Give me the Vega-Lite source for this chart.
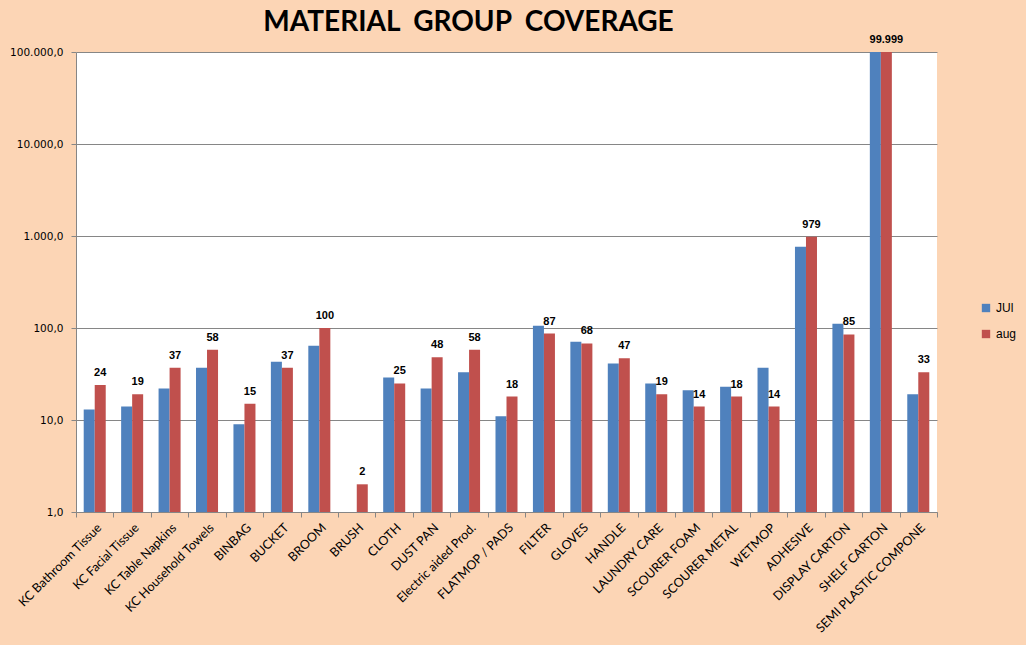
{
  "$schema": "https://vega.github.io/schema/vega-lite/v6.json",
  "width": 861,
  "height": 460,
  "autosize": "none",
  "padding": {"left": 76, "top": 52, "right": 89, "bottom": 133},
  "background": "#FCD5B5",
  "title": {
    "text": "MATERIAL\u00a0 GROUP\u00a0 COVERAGE",
    "font": "Lato",
    "fontSize": 28,
    "fontWeight": "bold",
    "color": "#000000",
    "anchor": "middle",
    "dx": -38,
    "offset": -3
  },
  "config": {
    "locale": {
      "number": {"decimal": ",", "thousands": ".", "grouping": [3], "currency": ["", ""]}
    },
    "view": {"fill": "#FFFFFF", "stroke": null},
    "axis": {"labelFont": "Liberation Sans", "labelColor": "#000000", "domainColor": "#868686", "tickColor": "#868686", "gridColor": "#868686"}
  },
  "data": {
    "values": [
      {"cat": "KC Bathroom Tissue", "series": "JUl", "value": 13},
      {"cat": "KC Bathroom Tissue", "series": "aug", "value": 24},
      {"cat": "KC Facial Tissue", "series": "JUl", "value": 14},
      {"cat": "KC Facial Tissue", "series": "aug", "value": 19},
      {"cat": "KC Table Napkins", "series": "JUl", "value": 22},
      {"cat": "KC Table Napkins", "series": "aug", "value": 37},
      {"cat": "KC Household Towels", "series": "JUl", "value": 37},
      {"cat": "KC Household Towels", "series": "aug", "value": 58},
      {"cat": "BINBAG", "series": "JUl", "value": 9},
      {"cat": "BINBAG", "series": "aug", "value": 15},
      {"cat": "BUCKET", "series": "JUl", "value": 43},
      {"cat": "BUCKET", "series": "aug", "value": 37},
      {"cat": "BROOM", "series": "JUl", "value": 64},
      {"cat": "BROOM", "series": "aug", "value": 100},
      {"cat": "BRUSH", "series": "aug", "value": 2},
      {"cat": "CLOTH", "series": "JUl", "value": 29},
      {"cat": "CLOTH", "series": "aug", "value": 25},
      {"cat": "DUST PAN", "series": "JUl", "value": 22},
      {"cat": "DUST PAN", "series": "aug", "value": 48},
      {"cat": "Electric aided Prod.", "series": "JUl", "value": 33},
      {"cat": "Electric aided Prod.", "series": "aug", "value": 58},
      {"cat": "FLATMOP / PADS", "series": "JUl", "value": 11},
      {"cat": "FLATMOP / PADS", "series": "aug", "value": 18},
      {"cat": "FILTER", "series": "JUl", "value": 106},
      {"cat": "FILTER", "series": "aug", "value": 87},
      {"cat": "GLOVES", "series": "JUl", "value": 71},
      {"cat": "GLOVES", "series": "aug", "value": 68},
      {"cat": "HANDLE", "series": "JUl", "value": 41},
      {"cat": "HANDLE", "series": "aug", "value": 47},
      {"cat": "LAUNDRY CARE", "series": "JUl", "value": 25},
      {"cat": "LAUNDRY CARE", "series": "aug", "value": 19},
      {"cat": "SCOURER FOAM", "series": "JUl", "value": 21},
      {"cat": "SCOURER FOAM", "series": "aug", "value": 14},
      {"cat": "SCOURER METAL", "series": "JUl", "value": 23},
      {"cat": "SCOURER METAL", "series": "aug", "value": 18},
      {"cat": "WETMOP", "series": "JUl", "value": 37},
      {"cat": "WETMOP", "series": "aug", "value": 14},
      {"cat": "ADHESIVE", "series": "JUl", "value": 765},
      {"cat": "ADHESIVE", "series": "aug", "value": 979},
      {"cat": "DISPLAY CARTON", "series": "JUl", "value": 111},
      {"cat": "DISPLAY CARTON", "series": "aug", "value": 85},
      {"cat": "SHELF CARTON", "series": "JUl", "value": 99999},
      {"cat": "SHELF CARTON", "series": "aug", "value": 99999},
      {"cat": "SEMI PLASTIC COMPONE", "series": "JUl", "value": 19},
      {"cat": "SEMI PLASTIC COMPONE", "series": "aug", "value": 33}
    ]
  },
  "encoding": {
    "x": {
      "field": "cat",
      "type": "nominal",
      "sort": null,
      "scale": {"paddingInner": 0, "paddingOuter": 0},
      "axis": {
        "title": null,
        "labelAngle": -45,
        "labelFont": "Lato",
        "labelFontSize": 12.5,
        "tickBand": "extent",
        "tickSize": 5,
        "labelPadding": 4
      }
    },
    "xOffset": {
      "field": "series",
      "type": "nominal",
      "scale": {"domain": ["JUl", "aug"], "paddingOuter": 0.7, "paddingInner": 0}
    },
    "y": {
      "field": "value",
      "type": "quantitative",
      "scale": {"type": "log", "domain": [1, 100000], "nice": false},
      "axis": {
        "title": null,
        "values": [1, 10, 100, 1000, 10000, 100000],
        "format": ",.1f",
        "labelFont": "DejaVu Sans",
        "labelFontSize": 10.5,
        "labelPadding": 8,
        "tickSize": 5,
        "gridColor": "#868686"
      }
    }
  },
  "layer": [
    {
      "mark": {"type": "bar"},
      "encoding": {
        "y2": {"datum": 1},
        "color": {
          "field": "series",
          "type": "nominal",
          "scale": {"domain": ["JUl", "aug"], "range": ["#4F81BD", "#C0504D"]},
          "legend": {
            "title": null,
            "orient": "none",
            "legendX": 904,
            "legendY": 250,
            "symbolType": "square",
            "symbolSize": 70,
            "symbolStrokeWidth": 0,
            "rowPadding": 14,
            "labelFont": "Liberation Sans",
            "labelFontSize": 12,
            "labelColor": "#000000"
          }
        }
      }
    },
    {
      "transform": [{"filter": "datum.series === 'aug'"}],
      "mark": {"type": "text", "dy": -12, "fontWeight": "bold", "font": "Liberation Sans", "fontSize": 11, "color": "#000000"},
      "encoding": {
        "text": {"field": "value", "type": "quantitative", "format": ",.0f"}
      }
    }
  ]
}
